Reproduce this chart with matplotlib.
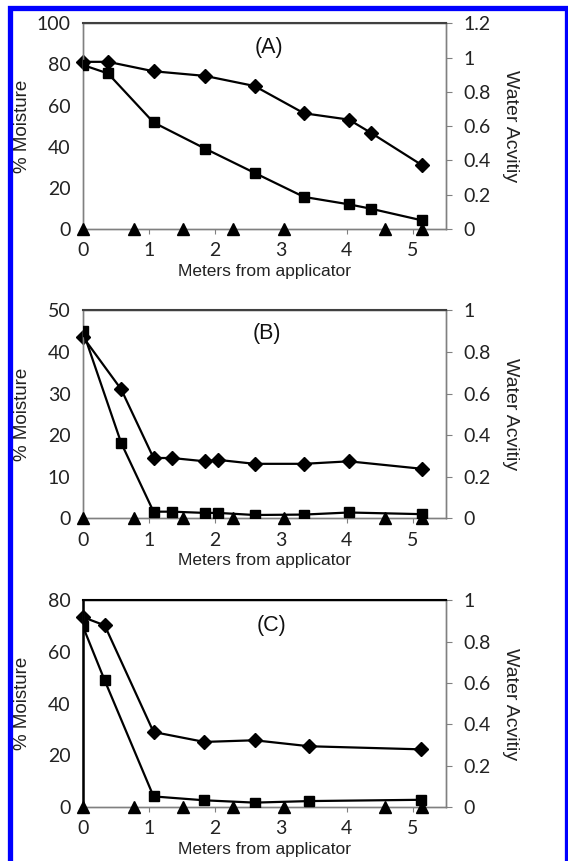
import matplotlib
matplotlib.use('Agg')
import matplotlib.pyplot as plt
from matplotlib.patches import Rectangle

# x positions (meters from applicator) and values
a_x = [0, 0.38, 1.07, 1.85, 2.6, 3.35, 4.03, 4.36, 5.14]
a_moist = [79.7, 75.6, 51.8, 39.1, 27.3, 15.6, 12.0, 9.9, 4.2]
a_aw = [0.975, 0.975, 0.92, 0.893, 0.834, 0.675, 0.638, 0.562, 0.372]

b_x = [0, 0.58, 1.07, 1.35, 1.85, 2.05, 2.6, 3.35, 4.03, 5.14]
b_moist = [45.0, 18.1, 1.6, 1.6, 1.3, 1.3, 0.8, 0.9, 1.4, 1.0]
b_aw = [0.872, 0.62, 0.29, 0.29, 0.274, 0.281, 0.262, 0.262, 0.274, 0.238]

c_x = [0, 0.33, 1.07, 1.84, 2.6, 3.43, 5.13]
c_moist = [69.9, 49.0, 4.1, 2.6, 1.7, 2.3, 2.8]
c_aw = [0.919, 0.879, 0.363, 0.315, 0.323, 0.294, 0.279]

tri_x = [0, 0.77, 1.52, 2.28, 3.05, 4.58, 5.14]
tri_y = [0, 0, 0, 0, 0, 0, 0]

panels = [
    ('(A)', a_x, a_moist, a_aw, 100, [0, 20, 40, 60, 80, 100], 1.2,
     [0, 0.2, 0.4, 0.6, 0.8, 1, 1.2], ['0', '0.2', '0.4', '0.6', '0.8', '1', '1.2']),
    ('(B)', b_x, b_moist, b_aw, 50, [0, 10, 20, 30, 40, 50], 1.0,
     [0, 0.2, 0.4, 0.6, 0.8, 1], ['0', '0.2', '0.4', '0.6', '0.8', '1']),
    ('(C)', c_x, c_moist, c_aw, 80, [0, 20, 40, 60, 80], 1.0,
     [0, 0.2, 0.4, 0.6, 0.8, 1], ['0', '0.2', '0.4', '0.6', '0.8', '1']),
]

# axes boxes in figure fractions (left, bottom, width, height)
boxes = [(0.146, 0.734, 0.639, 0.239),
         (0.146, 0.398, 0.639, 0.2416),
         (0.146, 0.0627, 0.639, 0.240)]
title_y = [0.883, 0.89, 0.88]
title_x = [0.512, 0.506, 0.52]

plt.rcParams['font.family'] = ['Liberation Sans', 'DejaVu Sans']

fig = plt.figure(figsize=(5.68, 8.61), dpi=100)
gray = '#808080'
txt = '#222222'

for i, (label, x, moist, aw, ymax, yt, awmax, awt, awl) in enumerate(panels):
    ax = fig.add_axes(boxes[i])
    ax2 = ax.twinx()
    ax.set_zorder(ax2.get_zorder() + 1)
    ax.patch.set_visible(False)

    ax.plot(x, moist, color='black', lw=1.6, marker='s', ms=7.5, zorder=3)
    ax.plot(tri_x, tri_y, color='black', ls='none', marker='^', ms=9,
            clip_on=False, zorder=4)
    ax2.plot(x, aw, color='black', lw=1.6, marker='D', ms=7, clip_on=False)

    ax.set_xlim(0, 5.5)
    ax.set_ylim(0, ymax)
    ax2.set_ylim(0, awmax)
    ax.set_xticks([0, 1, 2, 3, 4, 5])
    ax.set_yticks(yt)
    ax2.set_yticks(awt)
    ax2.set_yticklabels(awl)

    for a in (ax, ax2):
        for s in a.spines.values():
            s.set_color(gray)
            s.set_linewidth(1.0)
    top_col = 'black' if i == 2 else '#404040'
    ax.spines['top'].set_color(top_col)
    ax2.spines['top'].set_color(top_col)
    ax.spines['top'].set_linewidth(1.5)
    if i == 2:
        ax.spines['left'].set_color('black')
        ax.spines['left'].set_linewidth(1.8)

    ax.tick_params(axis='x', direction='out', length=3.5, color=gray, pad=6)
    ax.tick_params(axis='y', length=0, pad=9)
    ax2.tick_params(axis='y', direction='out', length=4.5, color=gray, pad=8)
    for t in ax.get_xticklabels() + ax.get_yticklabels() + ax2.get_yticklabels():
        t.set_fontfamily('Lato')
        t.set_fontsize(14)
        t.set_color(txt)

    h_px = boxes[i][3] * 861
    w_px = boxes[i][2] * 568
    ax.set_xlabel('Meters from applicator', fontsize=12.5, color=txt, va='center')
    ax.xaxis.set_label_coords(0.5, -42 / h_px)
    ax.set_ylabel('% Moisture', fontsize=13.5, color=txt, va='center')
    ax.yaxis.set_label_coords(-60 / w_px, 0.5)
    ax2.set_ylabel('Water Acvitiy', fontsize=14, color=txt, rotation=-90,
                   va='center')
    ax2.yaxis.set_label_coords(1 + 65 / w_px, 0.5)
    ax.text(title_x[i], title_y[i], label, transform=ax.transAxes, ha='center',
            va='center', fontsize=15.5, color='#111111')

# blue frame around the figure
fig.patches.append(Rectangle((9.5 / 568, -0.05), (566.5 - 9.5) / 568, 1.05 - 8 / 861,
                             transform=fig.transFigure, fill=False, zorder=-1,
                             edgecolor='#0000ff', linewidth=3.8))

fig.savefig('out.png', dpi=100)
